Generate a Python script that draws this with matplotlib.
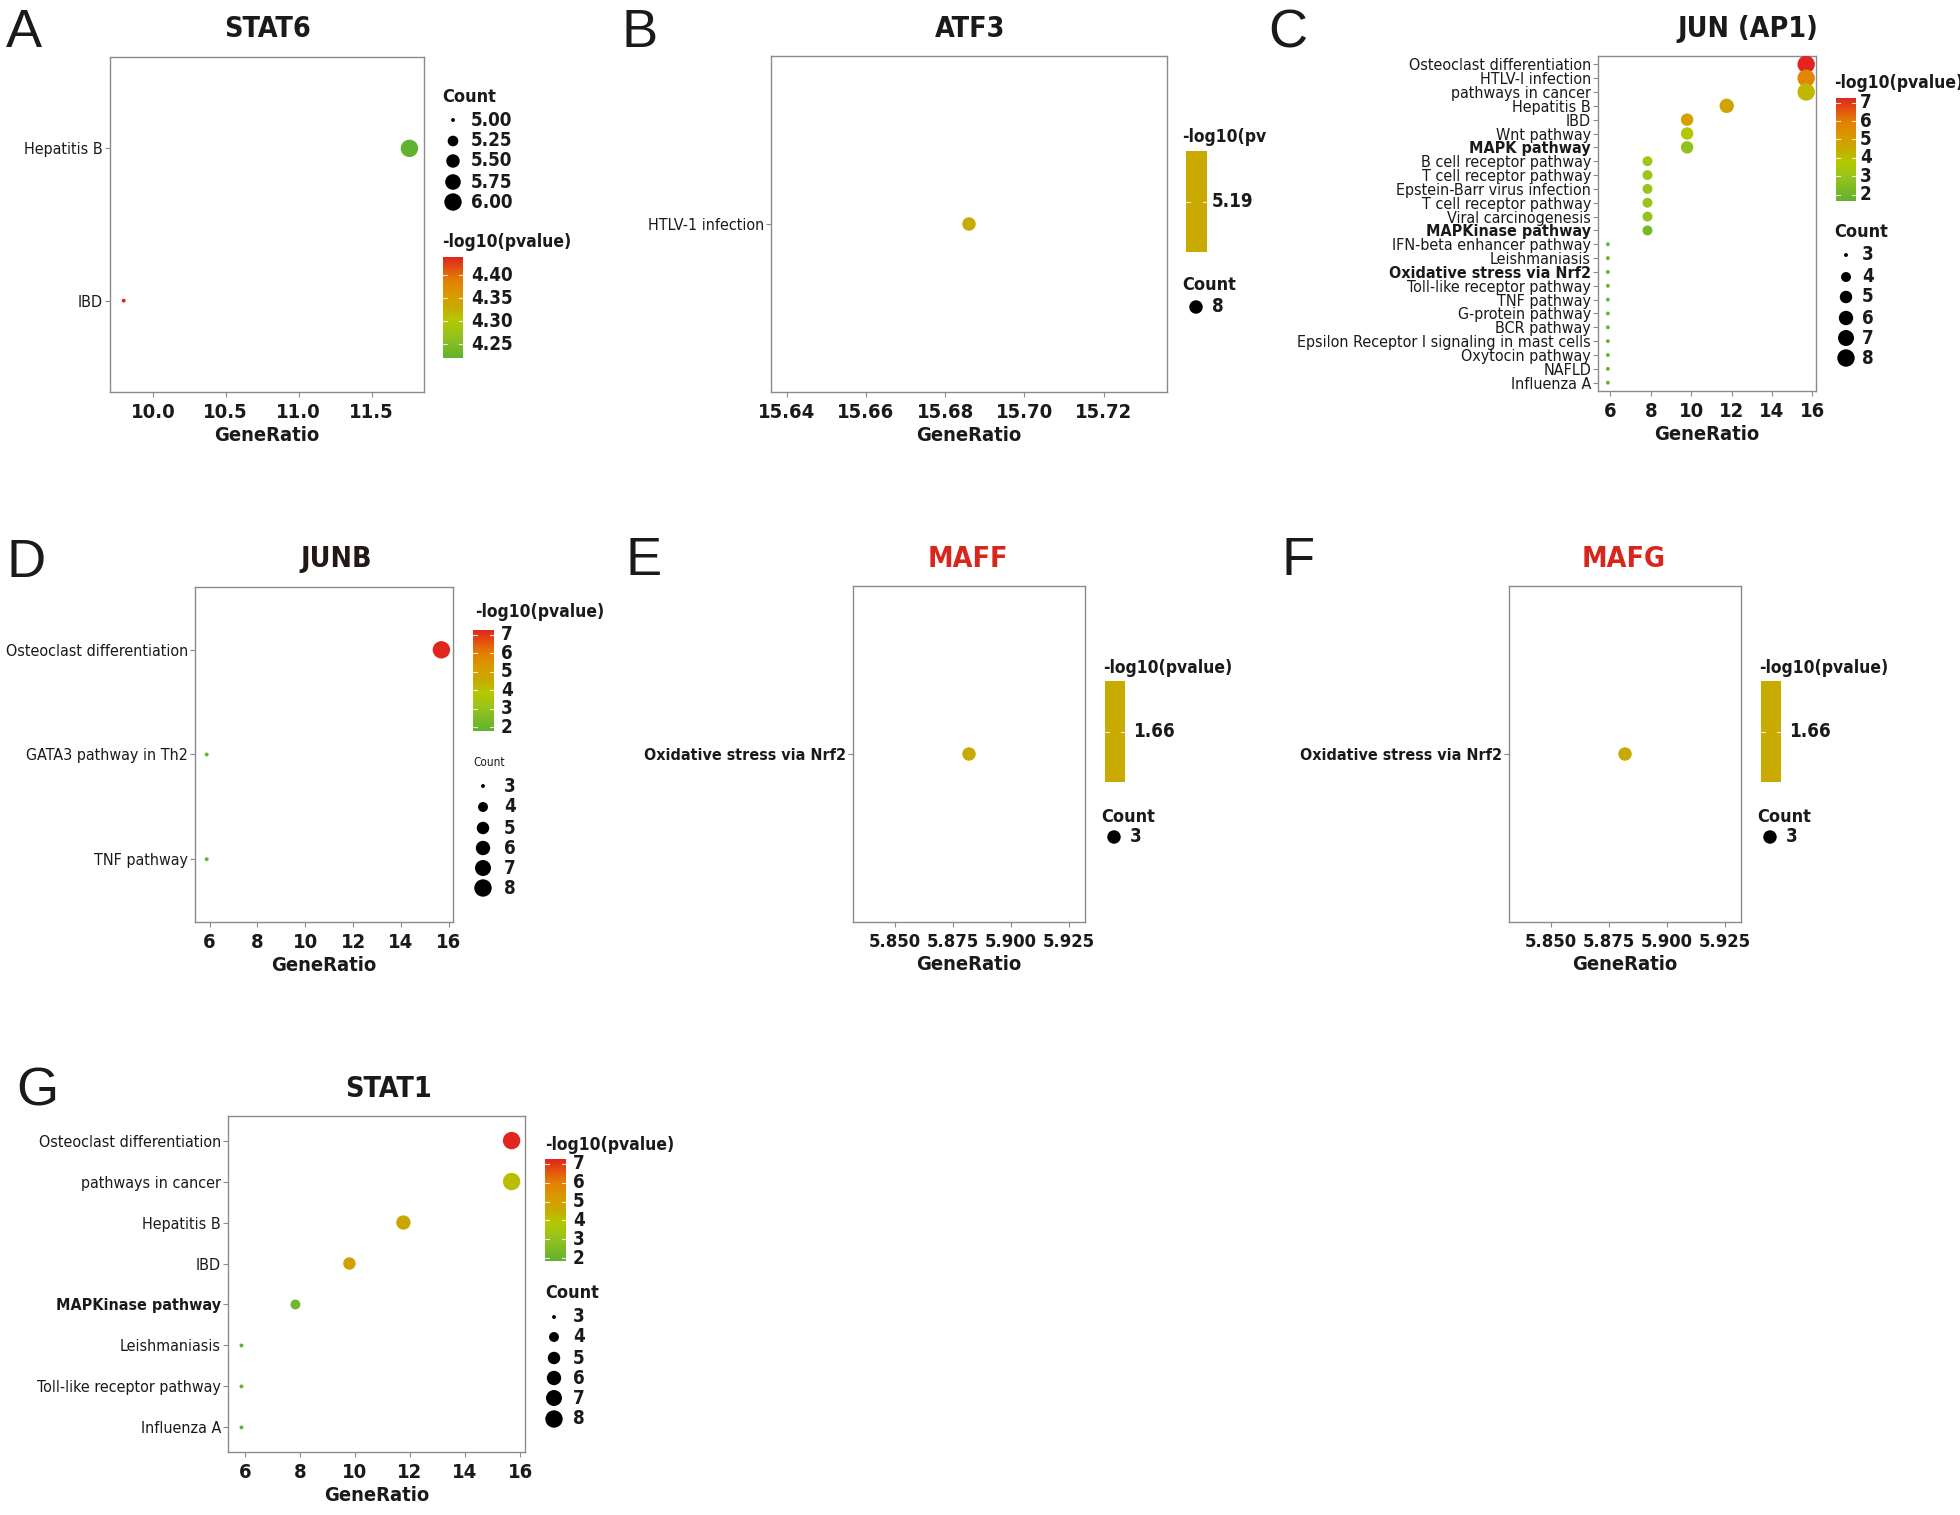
import numpy as np
import matplotlib
matplotlib.use('Agg')
import matplotlib.pyplot as plt
from matplotlib import font_manager as fm
from matplotlib.colors import LinearSegmentedColormap
from matplotlib.patches import Rectangle
from matplotlib.transforms import Bbox, TransformedBbox

W, H = 1960, 1515

# ---- data ----
stat6_terms = ['Hepatitis B', 'IBD']
stat6_ratio = [11.76, 9.80]
stat6_count = [6, 5]
stat6_logp = [4.22, 4.44]

atf3_terms = ['HTLV-1 infection']
atf3_ratio = [15.686]
atf3_count = [8]
atf3_logp = [5.19]

jun_terms = ['Osteoclast differentiation', 'HTLV-I infection', 'pathways in cancer',
             'Hepatitis B', 'IBD', 'Wnt pathway', 'MAPK pathway',
             'B cell receptor pathway', 'T cell receptor pathway',
             'Epstein-Barr virus infection', 'T cell receptor pathway',
             'Viral carcinogenesis', 'MAPKinase pathway', 'IFN-beta enhancer pathway',
             'Leishmaniasis', 'Oxidative stress via Nrf2', 'Toll-like receptor pathway',
             'TNF pathway', 'G-protein pathway', 'BCR pathway',
             'Epsilon Receptor I signaling in mast cells', 'Oxytocin pathway',
             'NAFLD', 'Influenza A']
jun_ratio = [15.69, 15.69, 15.69, 11.76, 9.80, 9.80, 9.80,
             7.84, 7.84, 7.84, 7.84, 7.84, 7.84,
             5.88, 5.88, 5.88, 5.88, 5.88, 5.88, 5.88, 5.88, 5.88, 5.88, 5.88]
jun_count = [8, 8, 8, 6, 5, 5, 5, 4, 4, 4, 4, 4, 4,
             3, 3, 3, 3, 3, 3, 3, 3, 3, 3, 3]
jun_logp = [7.25, 5.70, 4.15, 4.73, 5.00, 3.67, 2.78,
            3.25, 3.05, 2.98, 2.95, 2.90, 2.15,
            1.90, 1.85, 1.66, 1.90, 1.85, 1.80, 1.80, 1.80, 1.80, 1.75, 1.85]

junb_terms = ['Osteoclast differentiation', 'GATA3 pathway in Th2', 'TNF pathway']
junb_ratio = [15.69, 5.88, 5.88]
junb_count = [8, 3, 3]
junb_logp = [7.25, 1.80, 1.85]

maff_terms = ['Oxidative stress via Nrf2']
maff_ratio = [5.882]
maff_count = [3]
maff_logp = [1.66]

mafg_terms = ['Oxidative stress via Nrf2']
mafg_ratio = [5.882]
mafg_count = [3]
mafg_logp = [1.66]

stat1_terms = ['Osteoclast differentiation', 'pathways in cancer', 'Hepatitis B', 'IBD',
               'MAPKinase pathway', 'Leishmaniasis', 'Toll-like receptor pathway',
               'Influenza A']
stat1_ratio = [15.69, 15.69, 11.76, 9.80, 7.84, 5.88, 5.88, 5.88]
stat1_count = [8, 8, 6, 5, 4, 3, 3, 3]
stat1_logp = [7.25, 4.15, 4.73, 5.00, 2.20, 1.85, 1.90, 1.85]

bold_terms = ['MAPK pathway', 'MAPKinase pathway', 'Oxidative stress via Nrf2']

cmap = LinearSegmentedColormap.from_list('grn_red', [
    (0.0, '#62b22f'), (0.25, '#9cc51a'), (0.38, '#b4c800'), (0.5, '#c8aa00'),
    (0.62, '#d89c00'), (0.78, '#e57c04'), (1.0, '#e0261e')])

# ---- pick a narrow font if one is installed (the figure uses Arial Narrow) ----
narrow_files = [('LiberationSansNarrow-Regular', 'LiberationSansNarrow-Bold'),
                ('DejaVuSansCondensed.', 'DejaVuSansCondensed-Bold.'),
                ('RobotoCondensed-Regular', 'RobotoCondensed-Bold'),
                ('NotoSans-Condensed.', 'NotoSans-CondensedBold.'),
                ('OpenSans_Condensed-Regular', 'OpenSans_Condensed-Bold')]
all_files = [f.fname for f in fm.fontManager.ttflist]
font_reg, font_bold = None, None
for reg, bld in narrow_files:
    r = [f for f in all_files if reg in f]
    b = [f for f in all_files if bld in f]
    if r and b:
        font_reg, font_bold = r[0], b[0]
        break
SHRINK = 1.0 if font_reg else 0.95


def fp(size, bold=False):
    if font_reg:
        return fm.FontProperties(fname=font_bold if bold else font_reg, size=size)
    return fm.FontProperties(family=['Liberation Sans', 'DejaVu Sans'],
                             weight='bold' if bold else 'normal', size=size * SHRINK)


# font sizes (pt)
FS_TERM = 11.5
FS_TICK = 14.5
FS_XLAB = 14.5
FS_TITLE = 20.5
FS_LEG = 12.5

fig = plt.figure(figsize=(W / 100, H / 100), dpi=100)
ov = fig.add_axes([0, 0, 1, 1], zorder=10)
ov.axis('off')


def dot_size(c, cmin, cmax):
    # ggplot-like area scale, range 1..6
    frac = 0.5 if cmax == cmin else (c - cmin) / (cmax - cmin)
    size = 1 + 5 * np.sqrt(frac)
    d_px = 2.7 * size + 1.2
    return (d_px * 0.72) ** 2


def draw_panel(box, terms, ratio, count, logp, xticks, xlim, xfmt, tick_fs=FS_TICK):
    x0, x1, y0, y1 = box
    ax = fig.add_axes([x0 / W, 1 - y1 / H, (x1 - x0) / W, (y1 - y0) / H])
    n = len(terms)
    ypos = np.arange(n)[::-1]
    lo, hi = min(logp), max(logp)
    if hi > lo:
        cols = cmap((np.array(logp) - lo) / (hi - lo))
    else:
        cols = [cmap(0.5)] * n
    cmin, cmax = min(count), max(count)
    sizes = [dot_size(c, cmin, cmax) for c in count]
    ax.scatter(ratio, ypos, s=sizes, c=cols, edgecolors='none', zorder=3)
    ax.set_ylim(-0.6, n - 0.4)
    ax.set_xlim(*xlim)
    ax.set_yticks(ypos)
    ax.set_yticklabels(terms, color='#1a1a1a')
    for lab in ax.get_yticklabels():
        lab.set_fontproperties(fp(FS_TERM, lab.get_text() in bold_terms))
    ax.set_xticks(xticks)
    ax.set_xticklabels([xfmt.format(v) for v in xticks], color='#1a1a1a')
    for lab in ax.get_xticklabels():
        lab.set_fontproperties(fp(tick_fs, True))
    ax.set_xlabel('GeneRatio', fontproperties=fp(FS_XLAB, True), labelpad=3, color='#1a1a1a')
    for sp in ax.spines.values():
        sp.set_color('#8a8a8a')
        sp.set_linewidth(1.0)
    ax.tick_params(axis='both', color='#8a8a8a', length=3.5, width=0.8)
    ax.tick_params(axis='y', pad=1.5)
    ax.tick_params(axis='x', pad=4.5)
    return lo, hi, cmin, cmax


def colorbar_legend(title_xy, bar, lx, lo, hi, ticks, fmt, clip_x=None):
    bx0, bx1, by0, by1 = bar
    t = ov.text(title_xy[0], title_xy[1], '-log10(pvalue)', fontproperties=fp(FS_LEG, True),
                va='center', ha='left', color='#1a1a1a')
    if clip_x:
        box = Bbox([[title_xy[0] - 5, title_xy[1] - 30], [clip_x, title_xy[1] + 30]])
        t.set_clip_path(None)
        t.set_clip_box(TransformedBbox(box, ov.transData))
        t.set_clip_on(True)
    if hi > lo:
        grad = np.linspace(hi, lo, 256)[:, None]
        ov.imshow(grad, cmap=cmap, vmin=lo, vmax=hi, extent=[bx0, bx1, by1, by0],
                  aspect='auto', interpolation='bilinear')
        ys = [by1 - (v - lo) / (hi - lo) * (by1 - by0) for v in ticks]
    else:
        ov.add_patch(Rectangle((bx0, by0), bx1 - bx0, by1 - by0, color=cmap(0.5), lw=0))
        ys = [(by0 + by1) / 2]
    w = (bx1 - bx0) * 0.2
    for v, yy in zip(ticks, ys):
        ov.plot([bx0, bx0 + w], [yy, yy], color='white', lw=0.8, alpha=0.8)
        ov.plot([bx1 - w, bx1], [yy, yy], color='white', lw=0.8, alpha=0.8)
        ov.text(lx, yy, fmt.format(v), fontproperties=fp(FS_LEG + 1, True), va='center',
                ha='left', color='#1a1a1a')


def count_legend(title_xy, breaks, labels, ys, mx, lx, cmin, cmax, small=False):
    if small:
        ov.text(title_xy[0], title_xy[1], 'Count', fontproperties=fp(8.5),
                va='center', ha='left', color='#1a1a1a')
    else:
        ov.text(title_xy[0], title_xy[1], 'Count', fontproperties=fp(FS_LEG + 0.5, True),
                va='center', ha='left', color='#1a1a1a')
    for b, lab, yy in zip(breaks, labels, ys):
        ov.scatter([mx], [yy], s=dot_size(b, cmin, cmax), color='black', edgecolors='none')
        ov.text(lx, yy, lab, fontproperties=fp(FS_LEG + 1, True), va='center', ha='left',
                color='#1a1a1a')


def header(letter, lx, lb, title, tx, tb, tcolor='#1a1a1a'):
    ov.text(lx, lb, letter, fontsize=39, family=['Liberation Sans', 'DejaVu Sans'],
            va='baseline', ha='left', color='#1a1a1a')
    ov.text(tx, tb, title, fontproperties=fp(FS_TITLE, True), va='baseline', ha='center',
            color=tcolor)


wide = [6, 8, 10, 12, 14, 16]
wide_lim = (5.392, 16.176)
cnt_breaks = [3, 4, 5, 6, 7, 8]
cnt_labels = ['3', '4', '5', '6', '7', '8']
lp_ticks = [2, 3, 4, 5, 6, 7]

# A  STAT6
lo, hi, cmin, cmax = draw_panel((110, 424, 57, 392), stat6_terms, stat6_ratio, stat6_count,
                                stat6_logp, [10.0, 10.5, 11.0, 11.5], (9.706, 11.86), '{:.1f}')
header('A', 6, 47, 'STAT6', 267, 37)
count_legend((442, 97), [5.0, 5.25, 5.5, 5.75, 6.0], ['5.00', '5.25', '5.50', '5.75', '6.00'],
             [120, 141, 161, 182, 202], 453, 471, cmin, cmax)
colorbar_legend((442, 242), (443, 463, 257, 358), 471, lo, hi, [4.25, 4.30, 4.35, 4.40], '{:.2f}')

# B  ATF3
lo, hi, cmin, cmax = draw_panel((771, 1167, 56, 392), atf3_terms, atf3_ratio, atf3_count,
                                atf3_logp, [15.64, 15.66, 15.68, 15.70, 15.72],
                                (15.636, 15.736), '{:.2f}')
header('B', 621, 47, 'ATF3', 970, 37)
colorbar_legend((1182, 137), (1186, 1207, 151, 252), 1212, lo, hi, atf3_logp, '{:.2f}',
                clip_x=1266)
count_legend((1182, 285), [8], ['8'], [307], 1196, 1212, cmin, cmax)

# C  JUN (AP1)
lo, hi, cmin, cmax = draw_panel((1598, 1816, 56, 391), jun_terms, jun_ratio, jun_count,
                                jun_logp, wide, wide_lim, '{:d}')
header('C', 1268, 47, 'JUN (AP1)', 1748, 37)
colorbar_legend((1834, 83), (1836, 1856, 98, 201), 1860, lo, hi, lp_ticks, '{:d}')
count_legend((1834, 232), cnt_breaks, cnt_labels, [255, 277, 297, 318, 338, 358],
             1846, 1862, cmin, cmax)

# D  JUNB
lo, hi, cmin, cmax = draw_panel((195, 453, 587, 922), junb_terms, junb_ratio, junb_count,
                                junb_logp, wide, wide_lim, '{:d}')
header('D', 6, 577, 'JUNB', 336, 567, tcolor='#231815')
colorbar_legend((475, 612), (473, 494, 630, 731), 501, lo, hi, lp_ticks, '{:d}')
count_legend((473, 763), cnt_breaks, cnt_labels, [786, 807, 828, 848, 868, 888],
             483, 504, cmin, cmax, small=True)

# E  MAFF / F  MAFG
for dx, terms, ratio, count, logp, letter, name in [
        (0, maff_terms, maff_ratio, maff_count, maff_logp, 'E', 'MAFF'),
        (656, mafg_terms, mafg_ratio, mafg_count, mafg_logp, 'F', 'MAFG')]:
    lo, hi, cmin, cmax = draw_panel((853 + dx, 1085 + dx, 586, 922), terms, ratio, count, logp,
                                    [5.850, 5.875, 5.900, 5.925], (5.832, 5.932), '{:.3f}',
                                    tick_fs=13.2)
    header(letter, 625 + dx, 575, name, 968 + dx, 567, tcolor='#d9261c')
    colorbar_legend((1103 + dx, 668), (1105 + dx, 1125 + dx, 681, 782), 1133 + dx,
                    lo, hi, logp, '{:.2f}')
    count_legend((1101 + dx, 817), [3], ['3'], [837], 1114 + dx, 1130 + dx, cmin, cmax)

# G  STAT1
lo, hi, cmin, cmax = draw_panel((228, 525, 1116, 1452), stat1_terms, stat1_ratio, stat1_count,
                                stat1_logp, wide, wide_lim, '{:d}')
header('G', 16, 1105, 'STAT1', 388, 1097)
colorbar_legend((545, 1145), (545, 566, 1159, 1261), 573, lo, hi, lp_ticks, '{:d}')
count_legend((545, 1293), cnt_breaks, cnt_labels, [1317, 1337, 1358, 1378, 1398, 1419],
             554, 573, cmin, cmax)

ov.set_xlim(0, W)
ov.set_ylim(H, 0)

fig.savefig('out.png', dpi=100, facecolor='white')
